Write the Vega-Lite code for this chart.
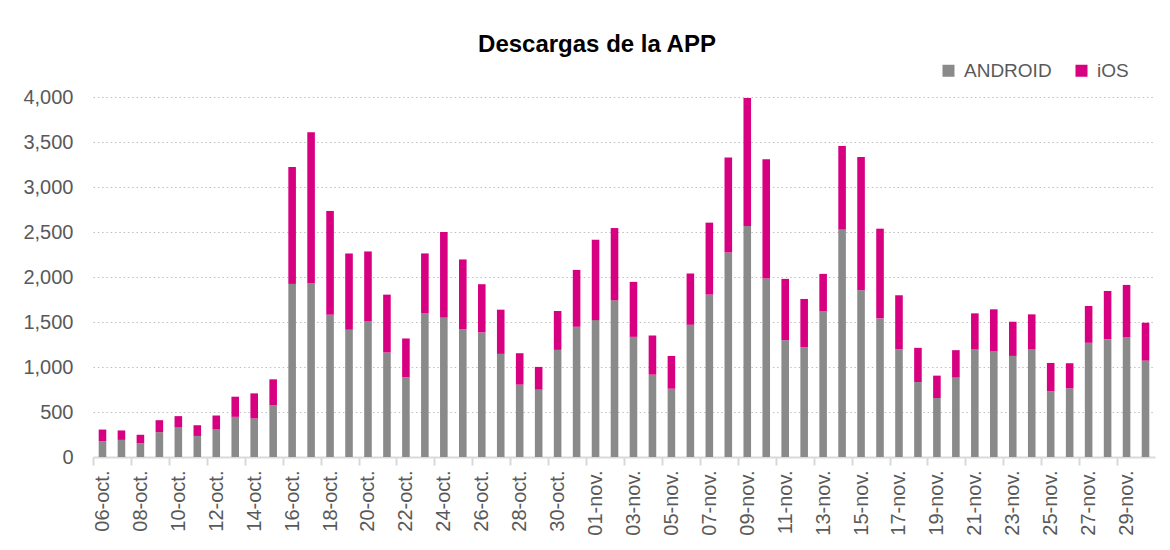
{
  "$schema": "https://vega.github.io/schema/vega-lite/v6.json",
  "autosize": {"type": "none"},
  "padding": {"left": 93, "top": 97, "right": 15, "bottom": 93},
  "width": 1062,
  "height": 360,
  "background": "white",
  "title": {
    "text": "Descargas de la APP",
    "font": "Liberation Sans",
    "fontSize": 24,
    "fontWeight": "bold",
    "color": "#000000",
    "anchor": "middle",
    "frame": "group",
    "dx": -27,
    "dy": 23,
    "baseline": "alphabetic",
    "offset": 8
  },
  "data": {
    "values": [
      {"fecha": "06-oct.", "ANDROID": 175, "iOS": 130},
      {"fecha": "07-oct.", "ANDROID": 190, "iOS": 105},
      {"fecha": "08-oct.", "ANDROID": 152, "iOS": 95},
      {"fecha": "09-oct.", "ANDROID": 275, "iOS": 134},
      {"fecha": "10-oct.", "ANDROID": 327, "iOS": 127},
      {"fecha": "11-oct.", "ANDROID": 234, "iOS": 119},
      {"fecha": "12-oct.", "ANDROID": 305, "iOS": 156},
      {"fecha": "13-oct.", "ANDROID": 446, "iOS": 224},
      {"fecha": "14-oct.", "ANDROID": 428, "iOS": 279},
      {"fecha": "15-oct.", "ANDROID": 573, "iOS": 290},
      {"fecha": "16-oct.", "ANDROID": 1923, "iOS": 1299},
      {"fecha": "17-oct.", "ANDROID": 1934, "iOS": 1674},
      {"fecha": "18-oct.", "ANDROID": 1581, "iOS": 1153},
      {"fecha": "19-oct.", "ANDROID": 1414, "iOS": 848},
      {"fecha": "20-oct.", "ANDROID": 1510, "iOS": 774},
      {"fecha": "21-oct.", "ANDROID": 1161, "iOS": 643},
      {"fecha": "22-oct.", "ANDROID": 885, "iOS": 432},
      {"fecha": "23-oct.", "ANDROID": 1600, "iOS": 662},
      {"fecha": "24-oct.", "ANDROID": 1548, "iOS": 952},
      {"fecha": "25-oct.", "ANDROID": 1421, "iOS": 774},
      {"fecha": "26-oct.", "ANDROID": 1384, "iOS": 536},
      {"fecha": "27-oct.", "ANDROID": 1146, "iOS": 491},
      {"fecha": "28-oct.", "ANDROID": 804, "iOS": 349},
      {"fecha": "29-oct.", "ANDROID": 748, "iOS": 253},
      {"fecha": "30-oct.", "ANDROID": 1190, "iOS": 432},
      {"fecha": "31-oct.", "ANDROID": 1447, "iOS": 632},
      {"fecha": "01-nov.", "ANDROID": 1521, "iOS": 893},
      {"fecha": "02-nov.", "ANDROID": 1741, "iOS": 803},
      {"fecha": "03-nov.", "ANDROID": 1335, "iOS": 611},
      {"fecha": "04-nov.", "ANDROID": 915, "iOS": 435},
      {"fecha": "05-nov.", "ANDROID": 759, "iOS": 364},
      {"fecha": "06-nov.", "ANDROID": 1469, "iOS": 570},
      {"fecha": "07-nov.", "ANDROID": 1804, "iOS": 800},
      {"fecha": "08-nov.", "ANDROID": 2273, "iOS": 1056},
      {"fecha": "09-nov.", "ANDROID": 2567, "iOS": 1421},
      {"fecha": "10-nov.", "ANDROID": 1983, "iOS": 1324},
      {"fecha": "11-nov.", "ANDROID": 1298, "iOS": 681},
      {"fecha": "12-nov.", "ANDROID": 1220, "iOS": 536},
      {"fecha": "13-nov.", "ANDROID": 1622, "iOS": 413},
      {"fecha": "14-nov.", "ANDROID": 2526, "iOS": 930},
      {"fecha": "15-nov.", "ANDROID": 1853, "iOS": 1480},
      {"fecha": "16-nov.", "ANDROID": 1540, "iOS": 997},
      {"fecha": "17-nov.", "ANDROID": 1198, "iOS": 599},
      {"fecha": "18-nov.", "ANDROID": 833, "iOS": 380},
      {"fecha": "19-nov.", "ANDROID": 655, "iOS": 249},
      {"fecha": "20-nov.", "ANDROID": 882, "iOS": 305},
      {"fecha": "21-nov.", "ANDROID": 1194, "iOS": 402},
      {"fecha": "22-nov.", "ANDROID": 1172, "iOS": 469},
      {"fecha": "23-nov.", "ANDROID": 1123, "iOS": 380},
      {"fecha": "24-nov.", "ANDROID": 1194, "iOS": 391},
      {"fecha": "25-nov.", "ANDROID": 729, "iOS": 316},
      {"fecha": "26-nov.", "ANDROID": 763, "iOS": 279},
      {"fecha": "27-nov.", "ANDROID": 1269, "iOS": 409},
      {"fecha": "28-nov.", "ANDROID": 1309, "iOS": 536},
      {"fecha": "29-nov.", "ANDROID": 1328, "iOS": 584},
      {"fecha": "30-nov.", "ANDROID": 1071, "iOS": 421}
    ]
  },
  "transform": [
    {"fold": ["ANDROID", "iOS"], "as": ["serie", "valor"]}
  ],
  "mark": {"type": "bar"},
  "encoding": {
    "x": {
      "field": "fecha",
      "type": "nominal",
      "sort": null,
      "scale": {"paddingInner": 0.6, "paddingOuter": 0.3},
      "axis": {
        "title": null,
        "values": ["06-oct.", "08-oct.", "10-oct.", "12-oct.", "14-oct.", "16-oct.", "18-oct.", "20-oct.", "22-oct.", "24-oct.", "26-oct.", "28-oct.", "30-oct.", "01-nov.", "03-nov.", "05-nov.", "07-nov.", "09-nov.", "11-nov.", "13-nov.", "15-nov.", "17-nov.", "19-nov.", "21-nov.", "23-nov.", "25-nov.", "27-nov.", "29-nov."],
        "labelAngle": -90,
        "labelFont": "Liberation Sans",
        "labelFontSize": 20,
        "labelColor": "#595959",
        "labelPadding": 5,
        "domainColor": "#d9d9d9",
        "domainWidth": 2,
        "tickColor": "#d9d9d9",
        "tickWidth": 2,
        "tickSize": 8,
        "tickOffset": -9.48,
        "labelOffset": 9.48,
        "grid": false
      }
    },
    "y": {
      "field": "valor",
      "type": "quantitative",
      "stack": "zero",
      "scale": {"domain": [0, 4000], "nice": false},
      "axis": {
        "title": null,
        "values": [0, 500, 1000, 1500, 2000, 2500, 3000, 3500, 4000],
        "format": ",d",
        "domain": false,
        "ticks": false,
        "labelFont": "Liberation Sans",
        "labelFontSize": 20,
        "labelColor": "#595959",
        "labelPadding": 20,
        "grid": true,
        "gridColor": "#bfbfbf",
        "gridDash": [1.5, 2.8],
        "gridWidth": 1
      }
    },
    "color": {
      "field": "serie",
      "type": "nominal",
      "scale": {"domain": ["ANDROID", "iOS"], "range": ["#8a8a8a", "#d60080"]},
      "legend": {
        "title": null,
        "orient": "none",
        "direction": "horizontal",
        "legendX": 846,
        "legendY": -36,
        "symbolType": "square",
        "symbolSize": 144,
        "symbolStrokeWidth": 0,
        "labelFont": "Liberation Sans",
        "labelFontSize": 19,
        "labelColor": "#595959",
        "labelOffset": 6,
        "columnPadding": 20
      }
    },
    "order": {"field": "serie", "sort": "ascending"}
  },
  "config": {
    "view": {"stroke": null},
    "font": "Liberation Sans"
  }
}
